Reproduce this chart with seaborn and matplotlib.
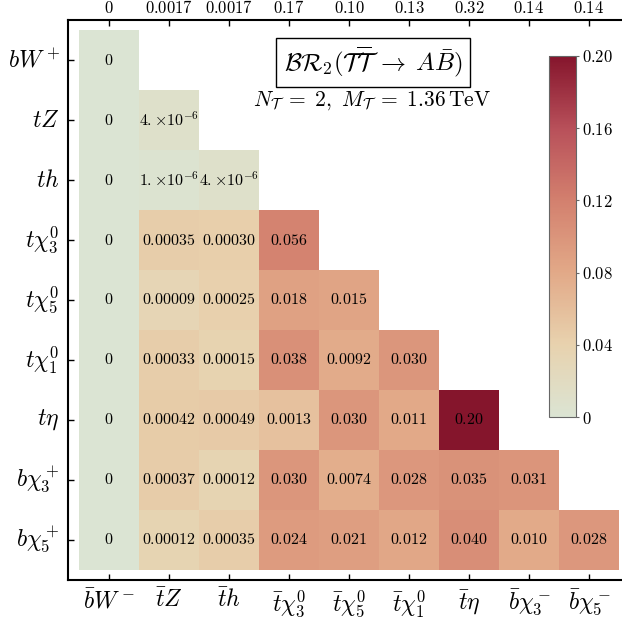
import numpy as np
import pandas as pd
import matplotlib
matplotlib.use('Agg')
import matplotlib.pyplot as plt
import matplotlib.colors as mcolors
import seaborn as sns

# row / column labels
rows = [r'$bW^+$', r'$tZ$', r'$th$', r'$t\chi_3^0$', r'$t\chi_5^0$', r'$t\chi_1^0$',
        r'$t\eta$', r'$b\chi_3^+$', r'$b\chi_5^+$']
cols = [r'$\bar{b}W^-$', r'$\bar{t}Z$', r'$\bar{t}h$', r'$\bar{t}\chi_3^0$', r'$\bar{t}\chi_5^0$',
        r'$\bar{t}\chi_1^0$', r'$\bar{t}\eta$', r'$\bar{b}\chi_3^-$', r'$\bar{b}\chi_5^-$']
top_labels = ['0', '0.0017', '0.0017', '0.17', '0.10', '0.13', '0.32', '0.14', '0.14']

# branching ratios (lower triangle)
r0 = [0]
r1 = [0, 4e-6]
r2 = [0, 1e-6, 4e-6]
r3 = [0, 0.00035, 0.00030, 0.056]
r4 = [0, 0.00009, 0.00025, 0.018, 0.015]
r5 = [0, 0.00033, 0.00015, 0.038, 0.0092, 0.030]
r6 = [0, 0.00042, 0.00049, 0.0013, 0.030, 0.011, 0.20]
r7 = [0, 0.00037, 0.00012, 0.030, 0.0074, 0.028, 0.035, 0.031]
r8 = [0, 0.00012, 0.00035, 0.024, 0.021, 0.012, 0.040, 0.010, 0.028]
# printed text for each cell
t0 = ['0']
t1 = ['0', r'4.{\times}10^{-6}']
t2 = ['0', r'1.{\times}10^{-6}', r'4.{\times}10^{-6}']
t3 = ['0', '0.00035', '0.00030', '0.056']
t4 = ['0', '0.00009', '0.00025', '0.018', '0.015']
t5 = ['0', '0.00033', '0.00015', '0.038', '0.0092', '0.030']
t6 = ['0', '0.00042', '0.00049', '0.0013', '0.030', '0.011', '0.20']
t7 = ['0', '0.00037', '0.00012', '0.030', '0.0074', '0.028', '0.035', '0.031']
t8 = ['0', '0.00012', '0.00035', '0.024', '0.021', '0.012', '0.040', '0.010', '0.028']

vals = [r0, r1, r2, r3, r4, r5, r6, r7, r8]
txts = [t0, t1, t2, t3, t4, t5, t6, t7, t8]
n = len(rows)
M = np.zeros((n, n))
A = np.full((n, n), '', dtype=object)
for i in range(n):
    M[i, :len(vals[i])] = vals[i]
    for j, s in enumerate(txts[i]):
        A[i, j] = '$' + s + '$'
mask = np.triu(np.ones((n, n), dtype=bool), k=1)

# colour scale: half linear, half log-like (small values still get some colour)
vmax = 0.2
x = M / vmax
P = 0.5 * x + 0.5 * np.log1p(x / 1e-5) / np.log1p(1 / 1e-5)
dfc = pd.DataFrame(P, index=rows, columns=cols)

plt.rcParams['mathtext.fontset'] = 'cm'
plt.rcParams['font.family'] = ['DejaVu Serif']

cmap = mcolors.LinearSegmentedColormap.from_list(
    'br', ['#dbe4d3', '#e8d2ae', '#e2a988', '#d3806e', '#b8505a', '#85152c'])

fig = plt.figure(figsize=(6.22, 6.22), dpi=100)
ax = fig.add_axes([68 / 622, 1 - 580 / 622, 562 / 622, 560 / 622])

sns.heatmap(dfc, mask=mask, cmap=cmap, vmin=0, vmax=1,
            annot=A, fmt='', annot_kws={'fontsize': 11.5, 'color': 'black'},
            cbar=False, linewidths=0, ax=ax)

ax.set_xlim(-0.183, n + 0.183)
ax.set_ylim(n + 0.167, -0.167)
for s in ['left', 'top', 'bottom', 'right']:
    ax.spines[s].set_visible(True)
    ax.spines[s].set_linewidth(1.5)
    ax.spines[s].set_color('black')
ax.set_xticks(np.arange(n) + 0.5)
ax.set_xticklabels(cols, fontsize=17, rotation=0)
ax.set_yticks(np.arange(n) + 0.5)
ax.set_yticklabels(rows, fontsize=17, rotation=0)
ax.tick_params(direction='in', length=4, width=1, top=False, left=True, bottom=True, pad=6)
ax.set_xlabel('')
ax.set_ylabel('')

sec = ax.secondary_xaxis('top')
sec.set_xticks(np.arange(n) + 0.5)
sec.set_xticklabels(['$' + s + '$' for s in top_labels], fontsize=12)
sec.tick_params(direction='in', length=4, width=1, pad=2)
sec.spines['top'].set_visible(False)

ax.text(0.6, 0.9, r'$\mathcal{BR}_2(\mathcal{T}\overline{\mathcal{T}}\;\rightarrow\; A\bar{B})$',
        transform=fig.transFigure, ha='center', va='center', fontsize=18,
        bbox=dict(boxstyle='square,pad=0.3', fc='white', ec='black', lw=1))
ax.text(0.598, 0.838, r'$N_\mathcal{T}\;=\;2,\ M_\mathcal{T}\;=\;1.36\,\mathrm{TeV}$',
        transform=fig.transFigure, ha='center', va='center', fontsize=15.5)

cax = fig.add_axes([549 / 622, 1 - 417 / 622, 27 / 622, 361 / 622])
sm = plt.cm.ScalarMappable(cmap=cmap, norm=mcolors.Normalize(0, vmax))
cb = fig.colorbar(sm, cax=cax)
cb.set_ticks([0, 0.04, 0.08, 0.12, 0.16, 0.20])
cb.set_ticklabels(['$0$', '$0.04$', '$0.08$', '$0.12$', '$0.16$', '$0.20$'], fontsize=12)
cb.outline.set_edgecolor('#666666')
cb.outline.set_linewidth(0.8)
cax.tick_params(length=2.5, width=0.8, color='#666666', pad=1.5)

fig.savefig('out.png', dpi=100)
